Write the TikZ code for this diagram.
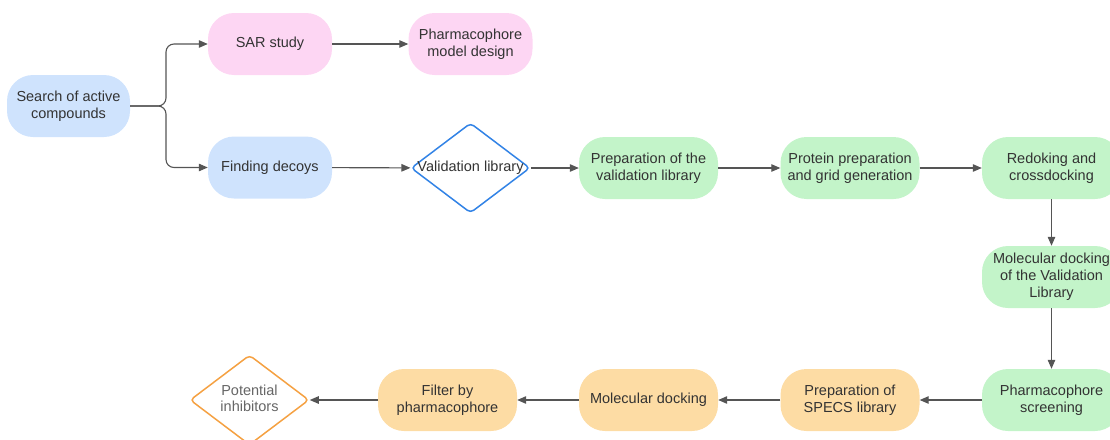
\documentclass[tikz,border=0pt]{standalone}
\usepackage{fontspec}
\setmainfont{Liberation Sans}
\usetikzlibrary{shapes.geometric,arrows.meta}
\definecolor{cblue}{HTML}{CFE3FD}
\definecolor{cpink}{HTML}{FDD6F3}
\definecolor{cgreen}{HTML}{C3F4C9}
\definecolor{corange}{HTML}{FDDCA4}
\definecolor{ctext}{HTML}{333333}
\definecolor{cgray}{HTML}{666666}
\definecolor{cline}{HTML}{555555}
\definecolor{cdblue}{HTML}{3283E6}
\definecolor{cdorange}{HTML}{F5A142}
\tikzset{
  box/.style={rectangle, rounded corners=26pt, draw=none, minimum height=62pt,
    inner sep=0pt, align=center, text=ctext,
    font=\fontsize{14.5pt}{17pt}\selectfont},
  sbox/.style={box, minimum width=124pt},
  wbox/.style={box, minimum width=139pt},
  dia/.style={diamond, minimum width=119pt, minimum height=90pt, inner sep=0pt,
    line width=1.5pt, rounded corners=4pt, fill=white,
    font=\fontsize{14.5pt}{17pt}\selectfont},
  arr/.style={draw=cline, line width=1.1pt, -{Triangle[length=9pt,width=7.5pt]}},
}
\begin{document}
\begin{tikzpicture}[x=1pt,y=-1pt]
\useasboundingbox (0,0) rectangle (1110,439);
\clip (0,0) rectangle (1110,439);
\node[sbox, fill=cblue, minimum width=123pt] (search) at (68.5,106) {Search of active\\compounds};
\node[sbox, fill=cpink] (sar) at (270,44) {SAR study};
\node[sbox, fill=cpink] (pmd) at (470.5,44) {Pharmacophore\\model design};
\node[sbox, fill=cblue] (decoys) at (270,167.5) {Finding decoys};
\node[dia, draw=cdblue, text=ctext] (vlib) at (470.5,168) {\makebox[0pt]{Validation library}};
\node[wbox, fill=cgreen] (prepval) at (648.5,168) {Preparation of the\\validation library};
\node[wbox, fill=cgreen] (protein) at (850,168) {Protein preparation\\and grid generation};
\node[wbox, fill=cgreen] (redock) at (1051.5,168) {Redoking and\\crossdocking};
\node[wbox, fill=cgreen] (mdvl) at (1051.5,277) {Molecular docking\\of the Validation\\Library};
\node[wbox, fill=cgreen] (pscreen) at (1051.5,400) {Pharmacophore\\screening};
\node[wbox, fill=corange] (specs) at (850,400) {Preparation of\\SPECS library};
\node[wbox, fill=corange] (moldock) at (648.5,400) {Molecular docking};
\node[wbox, fill=corange] (filter) at (447.5,400) {Filter by\\pharmacophore};
\node[dia, draw=cdorange, text=cgray] (pinh) at (249.5,400) {\makebox[0pt]{\begin{tabular}{@{}c@{}}Potential\\[-0.5pt]inhibitors\end{tabular}}};
\coordinate (fork) at (166,106);
\draw[arr, rounded corners=8pt] (search.east) -- (fork) |- (sar.west);
\draw[arr, rounded corners=8pt] (search.east) -- (fork) |- (decoys.west);
\draw[arr] (sar) -- (pmd);
\draw[arr] (decoys) -- (vlib);
\draw[arr] (vlib) -- (prepval);
\draw[arr] (prepval) -- (protein);
\draw[arr] (protein) -- (redock);
\draw[arr] (redock) -- (mdvl);
\draw[arr] (mdvl) -- (pscreen);
\draw[arr] (pscreen) -- (specs);
\draw[arr] (specs) -- (moldock);
\draw[arr] (moldock) -- (filter);
\draw[arr] (filter) -- (pinh);
\end{tikzpicture}
\end{document}
